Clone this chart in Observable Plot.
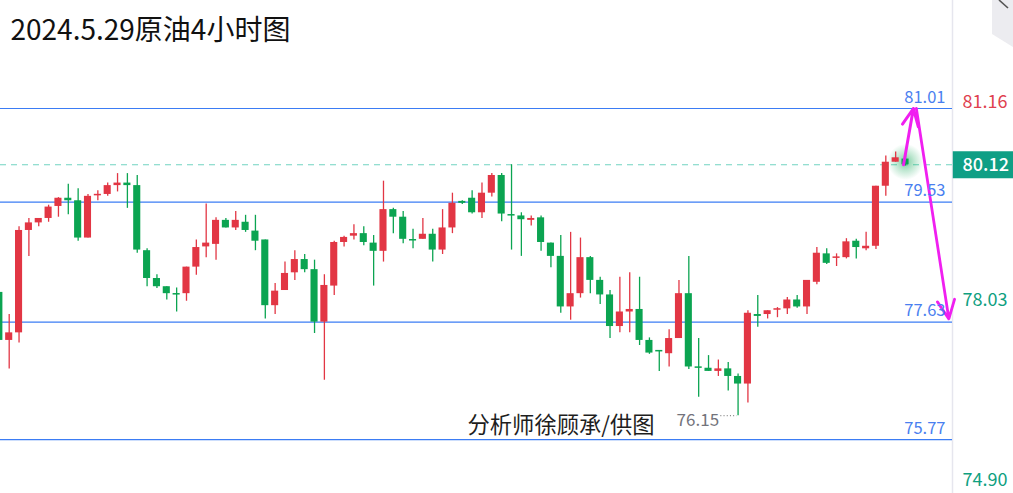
<!DOCTYPE html>
<html><head><meta charset="utf-8">
<script src="https://cdn.jsdelivr.net/npm/d3@7"></script>
<script src="https://cdn.jsdelivr.net/npm/@observablehq/plot@0.6"></script>
<style>
body{margin:0;background:#fff;}
#chart{position:relative;width:1013px;height:493px;overflow:hidden;}
</style>
</head><body><div id="chart"></div>
<script>
const title = "2024.5.29原油4小时图";
const credit = "分析师徐顾承/供图";

const open  = [78.10,77.34,77.46,79.08,79.20,79.27,79.46,79.59,79.55,78.96,79.63,79.65,79.79,79.83,79.79,78.76,78.32,78.19,78.08,78.08,78.50,78.82,78.86,79.24,79.12,79.21,79.07,78.93,77.89,78.13,78.41,78.62,78.46,77.63,78.20,78.89,78.99,79.03,78.88,78.75,79.41,79.29,78.93,78.94,79.02,78.77,79.12,79.54,79.59,79.36,79.67,79.95,79.33,79.31,79.24,79.28,78.88,78.67,77.87,78.08,78.65,78.29,78.06,77.56,77.79,77.83,77.34,77.18,77.13,77.37,78.08,76.92,76.90,76.85,76.89,76.77,76.65,77.75,77.75,77.82,77.84,77.98,77.87,78.26,78.71,78.64,78.65,78.91,78.79,78.83,79.78,80.16,80.21];
const high  = [78.13,77.75,79.14,79.27,79.27,79.48,79.60,79.81,79.74,79.65,79.71,79.83,79.98,79.98,79.95,78.79,78.38,78.19,78.17,78.50,78.93,79.50,79.28,79.27,79.38,79.32,79.32,78.93,78.24,78.58,78.76,78.70,78.61,78.38,78.91,78.99,79.17,79.14,79.00,79.86,79.43,79.38,79.10,79.27,79.10,79.41,79.67,79.55,79.71,79.83,79.98,79.98,80.12,79.36,79.31,79.31,78.88,79.00,79.05,78.96,78.67,78.34,78.13,78.34,78.41,78.34,77.38,77.18,77.51,78.29,78.67,77.37,77.10,77.03,76.99,76.81,77.81,78.05,77.81,77.86,78.02,78.05,78.29,78.81,78.79,78.71,78.95,78.94,79.05,79.78,80.26,80.32,80.30];
const low   = [77.31,76.89,77.30,78.67,79.14,79.21,79.29,79.33,78.91,78.96,79.55,79.62,79.69,79.43,78.72,78.19,78.16,77.98,77.79,77.96,78.37,78.65,78.61,79.12,79.08,79.05,78.76,77.68,77.75,78.13,78.29,78.41,77.45,76.71,78.05,78.82,78.93,78.84,78.20,78.58,79.03,78.87,78.79,78.94,78.58,78.70,79.03,79.49,79.34,79.27,79.61,79.22,78.77,78.67,79.15,78.75,78.49,77.77,77.66,78.01,78.08,77.91,77.37,77.46,77.46,77.26,77.12,76.85,76.92,77.37,76.88,76.44,76.85,76.77,76.54,76.15,76.35,77.55,77.68,77.70,77.75,77.85,77.75,78.22,78.54,78.51,78.63,78.63,78.76,78.78,79.62,80.16,80.10];
const close = [77.34,77.46,79.08,79.20,79.27,79.45,79.59,79.55,78.96,79.62,79.65,79.79,79.83,79.79,78.77,78.32,78.19,78.08,78.06,78.50,78.81,78.88,79.24,79.12,79.24,79.08,78.91,77.89,78.12,78.40,78.62,78.46,77.63,78.21,78.89,78.97,79.03,78.89,78.75,79.41,79.29,78.94,78.92,79.02,78.77,79.12,79.51,79.51,79.36,79.67,79.95,79.34,79.31,79.25,79.27,78.89,78.67,77.87,78.08,78.65,78.29,78.06,77.56,77.79,77.83,77.34,77.14,77.16,77.37,78.08,76.92,76.90,76.85,76.89,76.77,76.65,77.77,77.72,77.81,77.84,77.98,77.87,78.29,78.72,78.56,78.66,78.90,78.81,78.83,79.78,80.16,80.23,80.12];

const levels = [81.01, 79.53, 77.63, 75.77];
const lastPrice = 80.12;
const axisLabels = [81.16, 78.03, 74.90];

const RED = "#e23644", GREEN = "#0ba451", BLUE = "#3b7cf4", TEAL = "#0f9f85", MAGENTA = "#f01ff0";

const candles = open.map((o, i) => ({i, o, h: high[i], l: low[i], c: close[i], up: close[i] >= o}));
const lowIdx = d3.minIndex(low);
const lastIdx = candles.length - 1;

const xDomain = [0.117, 96.77];
const yDomain = [74.918, 82.719];
const minBody = 0.024;

const chart = Plot.plot({
  width: 1013, height: 493,
  marginLeft: 0, marginRight: 61, marginTop: 0, marginBottom: 0,
  x: {domain: xDomain, axis: null},
  y: {domain: yDomain, axis: null},
  color: {type: "identity"},
  style: {fontFamily: "'Noto Sans CJK SC','Noto Sans',sans-serif", background: "#fff", overflow: "visible"},
  marks: [
    Plot.ruleX([xDomain[1]], {stroke: "#e6e6ee", strokeWidth: 1.5}),
    Plot.ruleY(levels, {stroke: BLUE, strokeWidth: 1.2}),
    Plot.ruleY([lastPrice], {stroke: "#72d3c1", strokeWidth: 1.2, strokeDasharray: "6,5"}),
    Plot.dot([candles[lastIdx]], {x: "i", y: d => (d.o + d.c) / 2, r: 18, fill: "url(#glow)", stroke: "none"}),
    Plot.ruleX(candles, {x: "i", y1: "l", y2: "h", stroke: d => d.up ? RED : GREEN, strokeWidth: 1.3}),
    Plot.rect(candles, {
      x1: d => d.i - 0.36, x2: d => d.i + 0.36,
      y1: d => { const lo = Math.min(d.o, d.c), hi = Math.max(d.o, d.c); return hi - lo < minBody ? (lo + hi) / 2 - minBody / 2 : lo; },
      y2: d => { const lo = Math.min(d.o, d.c), hi = Math.max(d.o, d.c); return hi - lo < minBody ? (lo + hi) / 2 + minBody / 2 : hi; },
      fill: d => d.up ? RED : GREEN
    }),
    // low marker
    Plot.ruleY([low[lowIdx]], {x1: lowIdx - 1.75, x2: lowIdx - 0.1, stroke: "#888", strokeDasharray: "1,2.2", strokeWidth: 1.2}),
    Plot.text([low[lowIdx]], {x: lowIdx, y: d => d, dx: -19, dy: 5, textAnchor: "end", text: d => d.toFixed(2), fill: "#73737b", fontSize: 17}),
    // forecast arrows
    Plot.arrow([{x1: lastIdx - 0.2, y1: lastPrice, x2: lastIdx + 0.8, y2: levels[0]}], {x1: "x1", y1: "y1", x2: "x2", y2: "y2", stroke: MAGENTA, strokeWidth: 3, headLength: 11, headAngle: 50}),
    Plot.arrow([{x1: lastIdx + 1.1, y1: levels[0], x2: lastIdx + 4.4, y2: levels[2] + 0.05}], {x1: "x1", y1: "y1", x2: "x2", y2: "y2", stroke: MAGENTA, strokeWidth: 2.8, headLength: 11, headAngle: 50}),
    // level labels
    Plot.text(levels, {y: d => d, frameAnchor: "right", dx: -7, dy: -11, textAnchor: "end", text: d => d.toFixed(2), fill: "#4a7ff0", fontSize: 16.5}),
    // right axis labels
    Plot.text(axisLabels, {y: d => Math.max(d, yDomain[0] + 0.26), frameAnchor: "right", dx: 10, dy: 3, textAnchor: "start", text: d => d.toFixed(2), fill: d => d > lastPrice ? "#e0414f" : "#0fa07f", fontSize: 18}),
    // last price box
    Plot.ruleY([lastPrice], {x1: xDomain[1] + 0.08, x2: xDomain[1] + 7, stroke: TEAL, strokeWidth: 27}),
    Plot.text([lastPrice], {y: d => d, frameAnchor: "right", dx: 10, textAnchor: "start", text: d => d.toFixed(2), fill: "#fff", fontSize: 18, fontWeight: 500}),
    // title & credit
    Plot.text([title], {frameAnchor: "top-left", dx: 10, dy: 20, textAnchor: "start", fontSize: 28, fill: "#111"}),
    Plot.text([credit], {frameAnchor: "bottom-left", dx: 467, dy: -61, textAnchor: "start", fontSize: 22.3, fill: "#1e1e1e"})
  ]
});

const svg = d3.select(chart);
const defs = svg.insert("defs", ":first-child");
const g = defs.append("radialGradient").attr("id", "glow");
g.append("stop").attr("offset", "0%").attr("stop-color", GREEN).attr("stop-opacity", 0.55);
g.append("stop").attr("offset", "50%").attr("stop-color", GREEN).attr("stop-opacity", 0.25);
g.append("stop").attr("offset", "100%").attr("stop-color", GREEN).attr("stop-opacity", 0);
// corner decoration
const deco = svg.append("g");
deco.append("polygon").attr("points", "992,0 1013,0 1013,47 992,34").attr("fill", "#ececf0");
deco.append("line").attr("x1", 999).attr("y1", 0).attr("x2", 1008).attr("y2", 8).attr("stroke", "#555").attr("stroke-width", 1.6);

document.getElementById("chart").appendChild(chart);
</script>
</body></html>
